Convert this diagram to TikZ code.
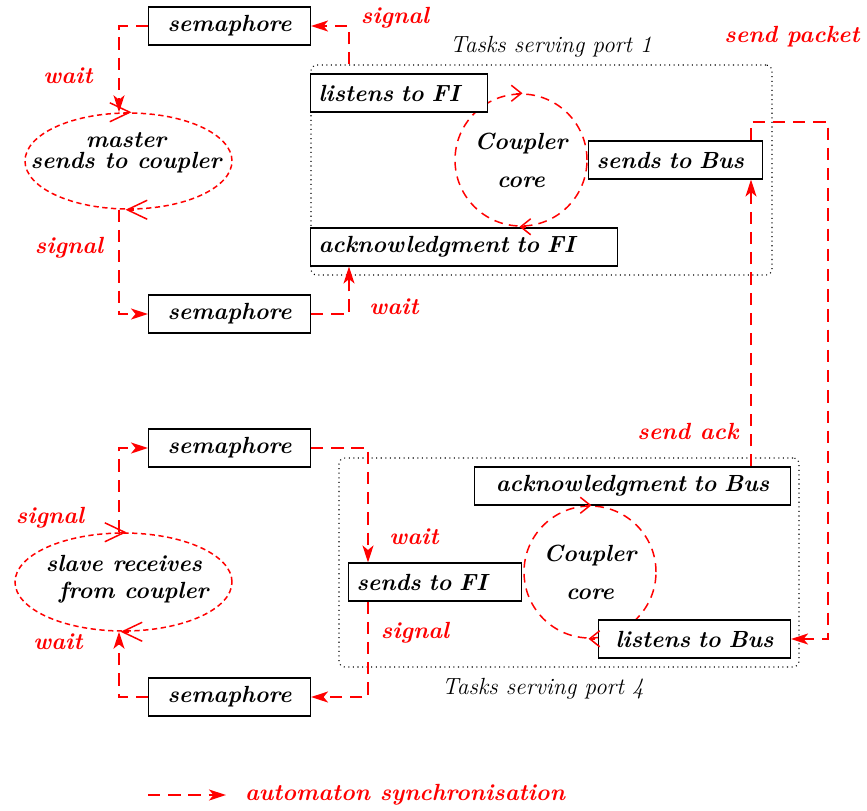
\documentclass[tikz,border=0pt]{standalone}
\usepackage{fontspec}
\usetikzlibrary{arrows.meta,shapes.geometric}
\newcommand{\bi}{\fontsize{13.3}{15}\selectfont\bfseries\itshape}

\begin{document}
\begin{tikzpicture}[x=0.2mm,y=-0.2mm,
    box/.style={draw,fill=white,line width=0.6pt,anchor=west,minimum height=7.6mm,
      inner xsep=1.6mm,inner ysep=0pt,font=\bi},
    sync/.style={red,line width=1.1pt,dash pattern=on 7pt off 4.5pt,
      -{Stealth[length=3.4mm,width=2.2mm,inset=0.9mm]}},
    lbl/.style={red,font=\bi},
    task/.style={draw,dotted,line width=0.6pt,rounded corners=1.2mm,inner sep=0pt},
    autom/.style={ellipse,draw=red,line width=0.85pt,dash pattern=on 3pt off 2pt,inner sep=0pt},
    core/.style={circle,draw=red,line width=0.85pt,dash pattern=on 5pt off 3.5pt,
      minimum size=26.4mm,inner sep=0pt,font=\bi,align=center},
    barb/.style={red,line width=0.85pt,-{Straight Barb[length=4mm,width=3.8mm]}},
    cbarb/.style={red,line width=0.85pt,-{Straight Barb[length=2mm,width=3.2mm]}}]
  \useasboundingbox (0,0) rectangle (867,810);

  % port 1
  \node[task,minimum width=92.2mm,minimum height=42mm] (port_1) at (541.5,170) {};
  \node[font=\fontsize{13.3}{15}\selectfont\itshape] (port_1_t) at (551,47) {Tasks serving port 1};
  \node[core] (core_1) at (521,160) {Coupler\\[6.5pt]core};
  \node[box,text width=32.2mm,align=left] (lis_FI) at (310,93) {listens to FI};
  \node[box,text width=31.6mm,align=left] (snd_Bus) at (588,160) {sends to Bus};
  \node[box,text width=58.2mm,align=left] (ack_FI) at (310,247) {acknowledgment to FI};
  \draw[cbarb] ([xshift=-1mm]core_1.north) -- ([xshift=0.3mm]core_1.north);
  \draw[cbarb] ([xshift=1mm]core_1.south) -- ([xshift=-0.3mm]core_1.south);

  % master
  \node[autom,minimum width=41.4mm,minimum height=19.2mm] (mast) at (128.5,161) {};
  \node[font=\bi,align=center] (mast_t) at (126,153) {master\\[-3pt]sends to coupler};
  \draw[barb] ([xshift=-1mm]mast.north) -- ([xshift=0.6mm]mast.north);
  \draw[barb] ([xshift=1mm]mast.south) -- ([xshift=-0.6mm]mast.south);
  \node[box,text width=29.2mm,align=center] (sem_a) at (148,26) {semaphore};
  \node[box,text width=29.2mm,align=center] (sem_b) at (148,314) {semaphore};

  % port 4
  \node[task,minimum width=92mm,minimum height=41.8mm] (port_4) at (569,562.5) {};
  \node[font=\fontsize{13.3}{15}\selectfont\itshape] (port_4_t) at (543,689) {Tasks serving port 4};
  \node[core] (core_4) at (590,572) {Coupler\\[6.5pt]core};
  \node[box,text width=60mm,align=center] (ack_Bus) at (474,486) {acknowledgment to Bus};
  \node[box,text width=31.4mm,align=left] (snd_FI) at (348,582) {sends to FI};
  \node[box,text width=35.2mm,align=center] (lis_Bus) at (598,639) {listens to Bus};
  \draw[cbarb] ([xshift=-1mm]core_4.north) -- ([xshift=0.3mm]core_4.north);
  \draw[cbarb] ([xshift=1mm]core_4.south) -- ([xshift=-0.3mm]core_4.south);

  % slave
  \node[autom,minimum width=43.4mm,minimum height=19.6mm] (slav) at (123.5,582) {};
  \node[font=\bi,align=center] (slav_t) at (124,579) {slave receives\\[0.3pt]\ \ from coupler};
  \draw[barb] ([xshift=-1mm]slav.north) -- ([xshift=0.6mm]slav.north);
  \draw[barb] ([xshift=1mm]slav.south) -- ([xshift=-0.6mm]slav.south);
  \node[box,text width=29.2mm,align=center] (sem_c) at (148,448) {semaphore};
  \node[box,text width=29.2mm,align=center] (sem_d) at (148,697) {semaphore};

  \coordinate (x_l) at (119,0);
  \coordinate (x_1) at (349,0);
  \coordinate (x_4) at (368,0);
  \coordinate (x_b) at (751,0);
  \coordinate (pk) at (828,122);

  \draw[sync] (sem_a.west) -| (x_l |- mast.north);
  \draw[sync] (x_l |- mast.south) |- (sem_b.west);
  \draw[sync] (x_1 |- port_1.north) |- (sem_a.east);
  \draw[sync] (sem_b.east) -| (x_1 |- ack_FI.south);
  \draw[sync] (x_b |- snd_Bus.north) |- (pk) |- (lis_Bus.east);
  \draw[sync] (x_b |- ack_Bus.north) -- (x_b |- snd_Bus.south);
  \draw[sync] (x_l |- slav.north) |- (sem_c.west);
  \draw[sync] (sem_c.east) -| (x_4 |- snd_FI.north);
  \draw[sync] (x_4 |- snd_FI.south) |- (sem_d.east);
  \draw[sync] (sem_d.west) -| (x_l |- slav.south);

  \node[lbl] (l_sig_a) at (395,18) {signal};
  \node[lbl] (l_wait_a) at (68,76) {wait};
  \node[lbl] (l_sig_b) at (69,248) {signal};
  \node[lbl] (l_wait_b) at (394,307) {wait};
  \node[lbl] (l_pack) at (792,37) {send packet};
  \node[lbl] (l_ack) at (688,431) {send ack};
  \node[lbl] (l_sig_c) at (50,518) {signal};
  \node[lbl] (l_wait_c) at (58,642) {wait};
  \node[lbl] (l_wait_d) at (414,537) {wait};
  \node[lbl] (l_sig_d) at (415,633) {signal};

  % legend
  \coordinate (lg_a) at (148,795);
  \coordinate (lg_b) at (226,795);
  \draw[sync] (lg_a) -- (lg_b);
  \node[lbl] (lg_t) at (405,795) {automaton synchronisation};
\end{tikzpicture}
\end{document}
